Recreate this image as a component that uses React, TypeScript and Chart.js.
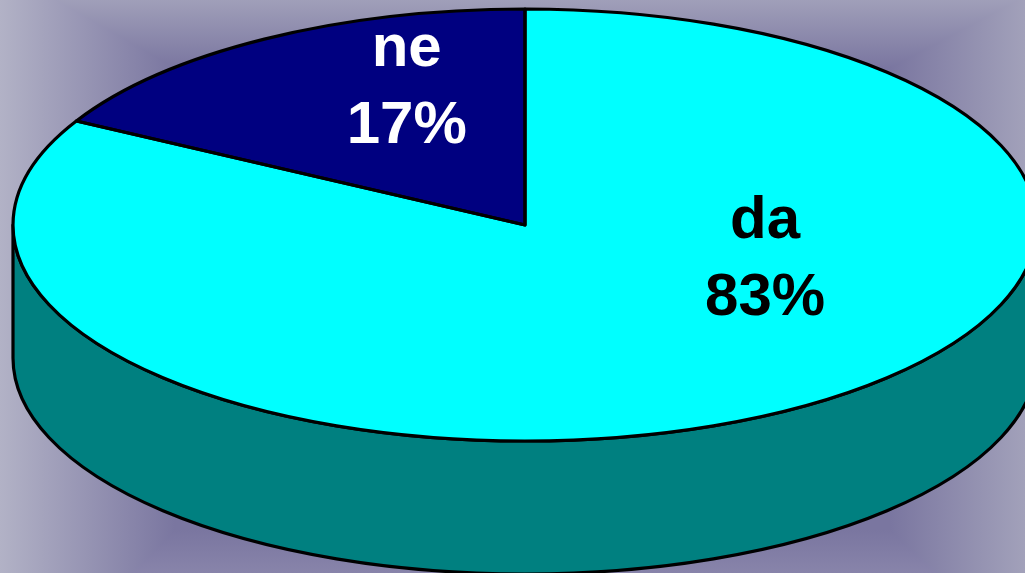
import React, { useEffect, useRef } from "react";
import { Chart, registerables } from "chart.js";

Chart.register(...registerables);

const categories = ["da", "ne"];
const values = [83, 17];
const topColors = ["#00FFFF", "#000080"];
const sideColors = ["#008080", "#000060"];
const labelColors = ["#000000", "#FFFFFF"];
// first-line baseline of each label, as fractions of the ellipse half-axes
const labelAnchorX = [0.469, -0.231];
const labelAnchorY = [0.06, -0.736];

const WIDTH = 1025;
const HEIGHT = 573;
const STRETCH_X = 512 / 216;
const DEPTH = 133;
const LINE = 3.2;
const LINE_GAP = 77;

function drawBackground(ctx: CanvasRenderingContext2D) {
  ctx.save();
  ctx.fillStyle = "#7A76A0";
  ctx.fillRect(0, 0, WIDTH, HEIGHT);
  ctx.globalCompositeOperation = "lighten";
  const band = (x0: number, y0: number, x1: number, y1: number, c: string) => {
    const g = ctx.createLinearGradient(x0, y0, x1, y1);
    g.addColorStop(0, c);
    g.addColorStop(1, "#7A76A0");
    ctx.fillStyle = g;
    ctx.fillRect(0, 0, WIDTH, HEIGHT);
  };
  band(0, 0, 175, 0, "#B2B2C6");
  band(WIDTH, 0, 890, 0, "#A2A1BA");
  band(0, 0, 0, 68, "#A09FB9");
  band(0, HEIGHT, 0, 530, "#8884AA");
  ctx.restore();
}

const pie3d = {
  id: "pie3d",
  beforeDraw(chart: any) {
    drawBackground(chart.ctx);
  },
  beforeDatasetsDraw(chart: any) {
    const ctx: CanvasRenderingContext2D = chart.ctx;
    const arcs = chart.getDatasetMeta(0).data;
    const { x: cx, y: cy, outerRadius: r } = arcs[0].getProps(["x", "y", "outerRadius"]);
    const rx = r * STRETCH_X;
    // the visible rim: the front half of each slice, pushed down by the depth
    arcs.forEach((arc: any, i: number) => {
      const { startAngle, endAngle } = arc.getProps(["startAngle", "endAngle"]);
      const from = Math.max(startAngle, 0);
      const to = Math.min(endAngle, Math.PI);
      if (to <= from) return;
      ctx.beginPath();
      ctx.ellipse(cx, cy, rx, r, 0, from, to);
      ctx.ellipse(cx, cy + DEPTH, rx, r, 0, to, from, true);
      ctx.closePath();
      ctx.fillStyle = sideColors[i];
      ctx.fill();
      ctx.lineWidth = LINE;
      ctx.strokeStyle = "#000";
      ctx.lineJoin = "round";
      ctx.stroke();
    });
    ctx.save();
    ctx.translate(cx, cy);
    ctx.scale(STRETCH_X, 1);
    ctx.translate(-cx, -cy);
  },
  afterDatasetsDraw(chart: any) {
    const ctx: CanvasRenderingContext2D = chart.ctx;
    ctx.restore();
    const arcs = chart.getDatasetMeta(0).data;
    const total = values.reduce((a, b) => a + b, 0);
    arcs.forEach((arc: any) => {
      const { x: cx, y: cy, outerRadius: r, startAngle, endAngle } = arc.getProps([
        "x",
        "y",
        "outerRadius",
        "startAngle",
        "endAngle",
      ]);
      const rx = r * STRETCH_X;
      ctx.beginPath();
      ctx.moveTo(cx, cy);
      ctx.ellipse(cx, cy, rx, r, 0, startAngle, endAngle);
      ctx.closePath();
      ctx.lineWidth = LINE;
      ctx.strokeStyle = "#000";
      ctx.lineJoin = "round";
      ctx.stroke();
    });
    arcs.forEach((arc: any, i: number) => {
      const { x: cx, y: cy, outerRadius: r } = arc.getProps(["x", "y", "outerRadius"]);
      const rx = r * STRETCH_X;
      const lx = cx + labelAnchorX[i] * rx;
      const ly = cy + labelAnchorY[i] * r;
      ctx.font = 'bold 60px "Liberation Sans", Arial, sans-serif';
      ctx.textAlign = "center";
      ctx.textBaseline = "alphabetic";
      ctx.fillStyle = labelColors[i];
      ctx.fillText(categories[i], lx, ly);
      ctx.fillText(`${Math.round((values[i] / total) * 100)}%`, lx, ly + LINE_GAP);
    });
  },
};

export default function App() {
  const ref = useRef<HTMLCanvasElement>(null);
  useEffect(() => {
    if (!ref.current) return;
    const chart = new Chart(ref.current, {
      type: "pie",
      data: {
        labels: categories,
        datasets: [
          {
            data: values,
            backgroundColor: topColors,
            borderWidth: 0,
            hoverBorderWidth: 0,
            hoverOffset: 0,
            offset: 0,
            clip: false,
          } as any,
        ],
      },
      options: {
        responsive: false,
        animation: false,
        events: [],
        layout: { padding: { left: 25, right: 0, top: 9, bottom: 132 } },
        plugins: { legend: { display: false }, tooltip: { enabled: false } },
      },
      plugins: [pie3d],
    });
    return () => chart.destroy();
  }, []);
  return (
    <div style={{ position: "fixed", left: 0, top: 0, width: WIDTH, height: HEIGHT, overflow: "hidden" }}>
      <canvas ref={ref} width={WIDTH} height={HEIGHT} style={{ display: "block" }} />
    </div>
  );
}
